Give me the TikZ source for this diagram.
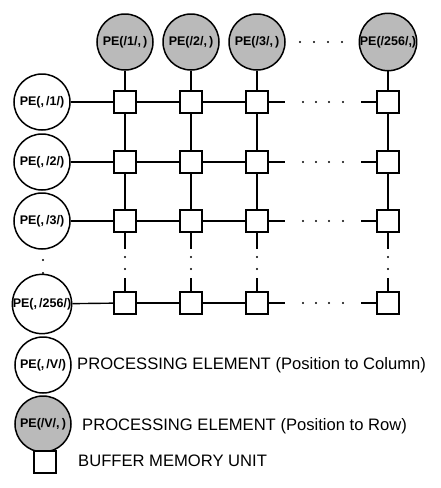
\documentclass[tikz,border=0pt]{standalone}
\usepackage{fontspec}
\setmainfont{Liberation Sans}
\begin{document}
\begin{tikzpicture}[x=1pt,y=-1pt,
  pe/.style={circle,draw,line width=1.5pt,minimum size=56pt,inner sep=0pt,
    font=\fontsize{12.5}{12.5}\selectfont\bfseries},
  rowpe/.style={pe,fill=black!27},
  buf/.style={draw,line width=1.5pt,minimum size=22pt,inner sep=0pt,fill=white},
  wire/.style={line width=1.4pt},
  dotm/.style={circle,fill,inner sep=0pt,minimum size=2.4pt},
  leg/.style={anchor=west,inner sep=0pt,font=\fontsize{16.6}{18}\selectfont}]
\useasboundingbox (0,0) rectangle (441,488);
% top (row) PEs
\node[rowpe] (T1) at (125,42) {PE(/1/,\,)};
\node[rowpe] (T2) at (191,42) {PE(/2/,\,)};
\node[rowpe] (T3) at (257,42) {PE(/3/,\,)};
\node[rowpe] (T4) at (388,42) {PE(/256/,)};
% left (column) PEs
\node[pe] (L1) at (42,102) {PE(,\,/1/)};
\node[pe] (L2) at (42,162) {PE(,\,/2/)};
\node[pe] (L3) at (42,221) {PE(,\,/3/)};
\node[pe] (L4) at (42,304) {PE(,\,/256/)};
% buffers
\foreach \r/\y in {1/102,2/162,3/221,4/303}{
  \foreach \c/\x in {1/125,2/191,3/257,4/388}{
    \node[buf] (B\r\c) at (\x,\y) {};
  }
  \coordinate (Ha\r) at (285,\y);
  \coordinate (Hb\r) at (361,\y);
  \foreach \dx in {303,316,329,343}{\node[dotm] at (\dx,\y) {};}
}
\foreach \c/\x in {1/125,2/191,3/257,4/388}{
  \coordinate (Va\c) at (\x,249);
  \coordinate (Vb\c) at (\x,278);
  \node[dotm] at (\x,257) {};
  \node[dotm] at (\x,269) {};
}
% horizontal wires
\foreach \r in {1,2,3,4}{
  \draw[wire] (L\r) -- (B\r1);
  \draw[wire] (B\r1) -- (B\r2);
  \draw[wire] (B\r2) -- (B\r3);
  \draw[wire] (B\r3) -- (Ha\r);
  \draw[wire] (Hb\r) -- (B\r4);
}
% vertical wires
\foreach \c in {1,2,3,4}{
  \draw[wire] (T\c) -- (B1\c);
  \draw[wire] (B1\c) -- (B2\c);
  \draw[wire] (B2\c) -- (B3\c);
  \draw[wire] (B3\c) -- (Va\c);
  \draw[wire] (Vb\c) -- (B4\c);
}
% dots
\foreach \dx in {300,314,328,342}{\node[dotm] at (\dx,42) {};}
\node[dotm] at (43,260) {};
\node[dotm] at (43,273) {};
% legend
\node[pe] (G1) at (43,365) {PE(,\,/V/)};
\node[leg] (G1t) at (77,365) {PROCESSING ELEMENT (Position to Column)};
\node[rowpe] (G2) at (43,424) {PE(/V/,\,)};
\node[leg] (G2t) at (82,426) {PROCESSING ELEMENT (Position to Row)};
\node[buf] (G3) at (45,462) {};
\node[leg] (G3t) at (78,461) {BUFFER MEMORY UNIT};
\end{tikzpicture}
\end{document}
